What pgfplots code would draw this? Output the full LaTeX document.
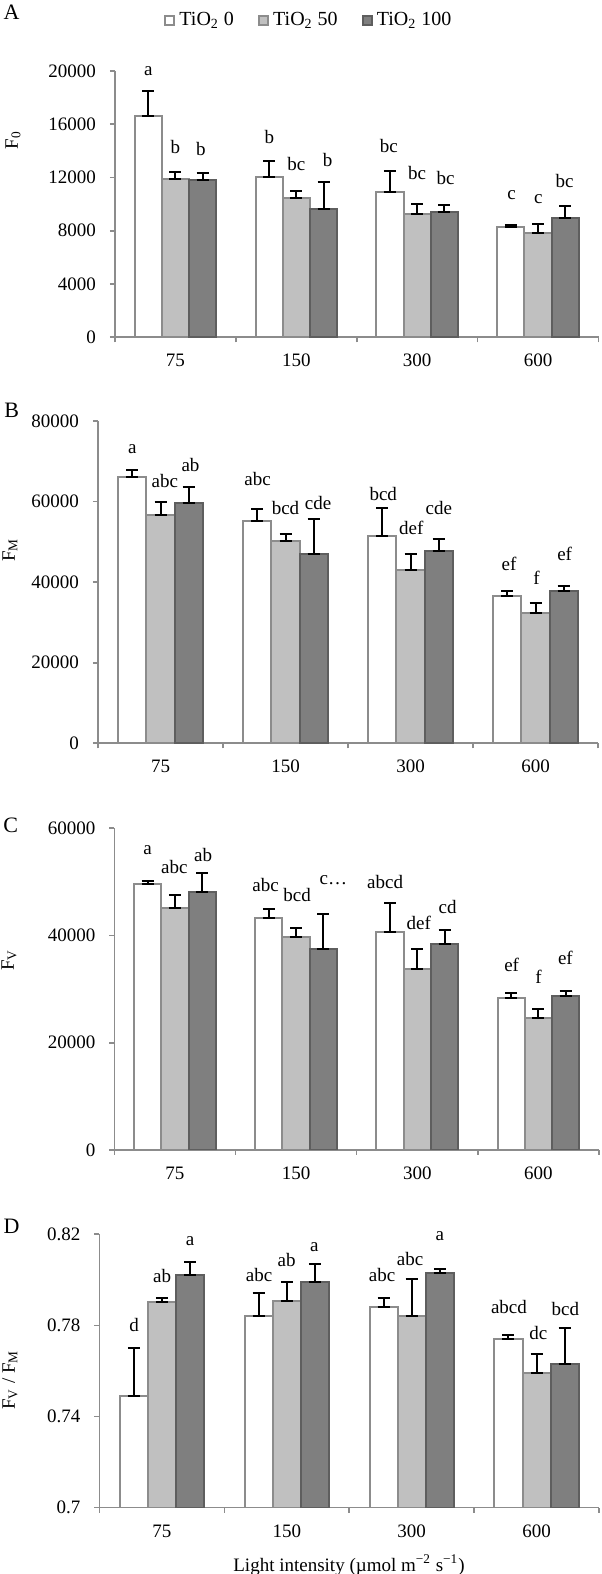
\documentclass[border=0pt]{standalone}
\usepackage{fontspec}
\setmainfont{Liberation Serif}
\usepackage{pgfplots}
\usetikzlibrary{plotmarks}
\pgfplotsset{compat=1.18}
\definecolor{axgray}{HTML}{8C8C8C}
\definecolor{lgray}{HTML}{C0C0C0}
\definecolor{dgray}{HTML}{7F7F7F}
\definecolor{dgrayline}{HTML}{5E5E5E}
\newcommand{\tf}{\fontsize{9.5}{11}\selectfont}
\tikzset{lbl/.style={font=\tf, inner sep=0pt, anchor=center}}
\pgfplotsset{
  mybars/.style={
    scale only axis,
    ybar, bar width=0.225,
    xmin=-0.5, xmax=3.5,
    enlarge x limits=false,
    scaled y ticks=false,
    axis x line*=bottom, axis y line*=left,
    axis line style={draw=axgray, line width=0.8pt},
    tick align=outside,
    major tick length=2.5pt,
    tick style={draw=axgray, line width=0.8pt},
    xtick={-0.5,0.5,1.5,2.5,3.5}, xticklabels={},
    extra x ticks={0,1,2,3}, extra x tick labels={75,150,300,600},
    extra x tick style={major tick length=0pt},
    ticklabel style={font=\tf},
    yticklabel style={xshift=-3.5pt},
    xticklabel style={yshift=-5pt},
    clip mode=individual,
    legend image code/.code={\draw[#1] (0pt,-2.3pt) rectangle (4.6pt,2.3pt);},
  },
  s0/.style={fill=white, draw=axgray, line width=1pt, bar shift=-0.225},
  s1/.style={fill=lgray, draw=axgray, line width=1pt, bar shift=0},
  s2/.style={fill=dgray, draw=dgrayline, line width=1pt, bar shift=0.225},
  eb/.style={error bars/y dir=both, error bars/y explicit,
    error bars/error mark=-,
    error bars/error bar style={black, line width=1pt, solid},
    error bars/error mark options={rotate=90, black, line width=1pt, mark size=3pt}},
}
\begin{document}
\begin{tikzpicture}
\path[use as bounding box] (0,0) rectangle (300.5pt,787pt);
% ---------- Panel A ----------
\begin{axis}[mybars, at={(57.5pt,618.35pt)}, anchor=south west,
  width=241.75pt, height=133.15pt,
  ymin=0, ymax=20000,
  ytick={0,4000,8000,12000,16000,20000},
  yticklabels={0,4000,8000,12000,16000,20000},
  legend style={at={(rel axis cs:0.403,1.189)}, anchor=center, draw=none, fill=none,
    legend columns=3, font=\fontsize{10}{12}\selectfont,
    /tikz/every even column/.append style={column sep=10pt}},
]
\addplot[s0, eb] coordinates {(0,16620) += (0,1903) -= (0,0) (1,12015) += (0,1201) -= (0,0) (2,10914) += (0,1577) -= (0,0) (3,8285) += (0,151) -= (0,0)};
\addplot[s1, eb] coordinates {(0,11890) += (0,525) -= (0,0) (1,10488) += (0,526) -= (0,0) (2,9262) += (0,751) -= (0,0) (3,7860) += (0,650) -= (0,0)};
\addplot[s2, eb] coordinates {(0,11840) += (0,476) -= (0,0) (1,9662) += (0,2028) -= (0,0) (2,9437) += (0,500) -= (0,0) (3,8961) += (0,876) -= (0,0)};
\addlegendentry{TiO\textsubscript{2} 0}
\addlegendentry{TiO\textsubscript{2} 50}
\addlegendentry{TiO\textsubscript{2} 100}
\node[lbl] at (axis cs:-0.225,20000) {a};
\node[lbl] at (axis cs:0,14318) {b};
\node[lbl] at (axis cs:0.21,14118) {b};
\node[lbl] at (axis cs:0.778,15069) {b};
\node[lbl] at (axis cs:1.0,13016) {bc};
\node[lbl] at (axis cs:1.259,13316) {b};
\node[lbl] at (axis cs:1.766,14368) {bc};
\node[lbl] at (axis cs:2.0,12365) {bc};
\node[lbl] at (axis cs:2.236,11940) {bc};
\node[lbl] at (axis cs:2.781,10688) {c};
\node[lbl] at (axis cs:3.003,10363) {c};
\node[lbl] at (axis cs:3.219,11765) {bc};
\end{axis}
% ---------- Panel B ----------
\begin{axis}[mybars, at={(49pt,415.35pt)}, anchor=south west,
  width=250pt, height=161.15pt,
  ymin=0, ymax=80000,
  ytick={0,20000,40000,60000,80000},
  yticklabels={0,20000,40000,60000,80000},
]
\addplot[s0, eb] coordinates {(0,66018) += (0,1738) -= (0,0) (1,55181) += (0,2896) -= (0,0) (2,51458) += (0,7032) -= (0,0) (3,36484) += (0,1241) -= (0,0)};
\addplot[s1, eb] coordinates {(0,56670) += (0,3144) -= (0,0) (1,50217) += (0,1737) -= (0,0) (2,42937) += (0,4136) -= (0,0) (3,32347) += (0,2400) -= (0,0)};
\addplot[s2, eb] coordinates {(0,59731) += (0,3889) -= (0,0) (1,47073) += (0,8604) -= (0,0) (2,47735) += (0,2978) -= (0,0) (3,37725) += (0,1323) -= (0,0)};
\node[lbl] at (axis cs:-0.226,73050) {a};
\node[lbl] at (axis cs:0.034,65191) {abc};
\node[lbl] at (axis cs:0.24,69080) {ab};
\node[lbl] at (axis cs:0.777,65522) {abc};
\node[lbl] at (axis cs:1.0,58490) {bcd};
\node[lbl] at (axis cs:1.261,59731) {cde};
\node[lbl] at (axis cs:1.782,61799) {bcd};
\node[lbl] at (axis cs:2.006,53526) {def};
\node[lbl] at (axis cs:2.227,58490) {cde};
\node[lbl] at (axis cs:2.788,44509) {ef};
\node[lbl] at (axis cs:3.009,40951) {f};
\node[lbl] at (axis cs:3.233,46990) {ef};
\end{axis}
% ---------- Panel C ----------
\begin{axis}[mybars, at={(57.2pt,212pt)}, anchor=south west,
  width=242.3pt, height=160.85pt,
  ymin=0, ymax=60000,
  ytick={0,20000,40000,60000},
  yticklabels={0,20000,40000,60000},
]
\addplot[s0, eb] coordinates {(0,49617) += (0,559) -= (0,0) (1,43337) += (0,1679) -= (0,0) (2,40663) += (0,5410) -= (0,0) (3,28415) += (0,932) -= (0,0)};
\addplot[s1, eb] coordinates {(0,45078) += (0,2487) -= (0,0) (1,39793) += (0,1679) -= (0,0) (2,33824) += (0,3606) -= (0,0) (3,24684) += (0,1617) -= (0,0)};
\addplot[s2, eb] coordinates {(0,48124) += (0,3482) -= (0,0) (1,37554) += (0,6405) -= (0,0) (2,38425) += (0,2549) -= (0,0) (3,28788) += (0,808) -= (0,0)};
\node[lbl] at (axis cs:-0.226,55959) {a};
\node[lbl] at (axis cs:-0.005,52725) {abc};
\node[lbl] at (axis cs:0.232,55026) {ab};
\node[lbl] at (axis cs:0.748,49430) {abc};
\node[lbl] at (axis cs:1.008,47565) {bcd};
\node[lbl] at (axis cs:1.308,50363) {c…};
\node[lbl] at (axis cs:1.735,50052) {abcd};
\node[lbl] at (axis cs:2.013,42404) {def};
\node[lbl] at (axis cs:2.251,45264) {cd};
\node[lbl] at (axis cs:2.779,34508) {ef};
\node[lbl] at (axis cs:3.0,32207) {f};
\node[lbl] at (axis cs:3.223,35751) {ef};
\end{axis}
% ---------- Panel D ----------
\begin{axis}[mybars, at={(49.75pt,33.15pt)}, anchor=south west,
  width=249.75pt, height=136.7pt,
  ymin=0.7, ymax=0.82,
  ytick={0.7,0.74,0.78,0.82},
  yticklabels={0.7,0.74,0.78,0.82},
]
\addplot[s0, eb] coordinates {(0,0.7490) += (0,0.0211) -= (0,0) (1,0.7840) += (0,0.0101) -= (0,0) (2,0.7881) += (0,0.0039) -= (0,0) (3,0.7739) += (0,0.0021) -= (0,0)};
\addplot[s1, eb] coordinates {(0,0.7901) += (0,0.0019) -= (0,0) (1,0.7909) += (0,0.0083) -= (0,0) (2,0.7841) += (0,0.0163) -= (0,0) (3,0.7590) += (0,0.0083) -= (0,0)};
\addplot[s2, eb] coordinates {(0,0.8021) += (0,0.0058) -= (0,0) (1,0.7989) += (0,0.0081) -= (0,0) (2,0.8030) += (0,0.0019) -= (0,0) (3,0.7632) += (0,0.0158) -= (0,0)};
\node[lbl] at (axis cs:-0.222,0.7802) {d};
\node[lbl] at (axis cs:0.001,0.8017) {ab};
\node[lbl] at (axis cs:0.225,0.8168) {a};
\node[lbl] at (axis cs:0.778,0.8021) {abc};
\node[lbl] at (axis cs:0.999,0.8087) {ab};
\node[lbl] at (axis cs:1.22,0.8143) {a};
\node[lbl] at (axis cs:1.763,0.8021) {abc};
\node[lbl] at (axis cs:1.987,0.8090) {abc};
\node[lbl] at (axis cs:2.226,0.8193) {a};
\node[lbl] at (axis cs:2.779,0.7882) {abcd};
\node[lbl] at (axis cs:3.015,0.7768) {dc};
\node[lbl] at (axis cs:3.23,0.7871) {bcd};
\end{axis}
% ---------- Panel letters and axis titles ----------
\node[font=\fontsize{11}{13}\selectfont] at (5.8pt,781pt) {A};
\node[font=\fontsize{11}{13}\selectfont] at (5.8pt,582pt) {B};
\node[font=\fontsize{11}{13}\selectfont] at (5.3pt,374.5pt) {C};
\node[font=\fontsize{11}{13}\selectfont] at (5.8pt,173.6pt) {D};
\node[font=\tf, rotate=90] at (6.5pt,717pt) {F\textsubscript{0}};
\node[font=\tf, rotate=90] at (5pt,512pt) {F\textsubscript{M}};
\node[font=\tf, rotate=90] at (4.5pt,307pt) {F\textsubscript{V}};
\node[font=\tf, rotate=90] at (5pt,97pt) {F\textsubscript{V} / F\textsubscript{M}};
\node[font=\tf] at (174.5pt,4.5pt) {Light intensity (µmol m\textsuperscript{−2} s\textsuperscript{−1})};
\end{tikzpicture}
\end{document}
